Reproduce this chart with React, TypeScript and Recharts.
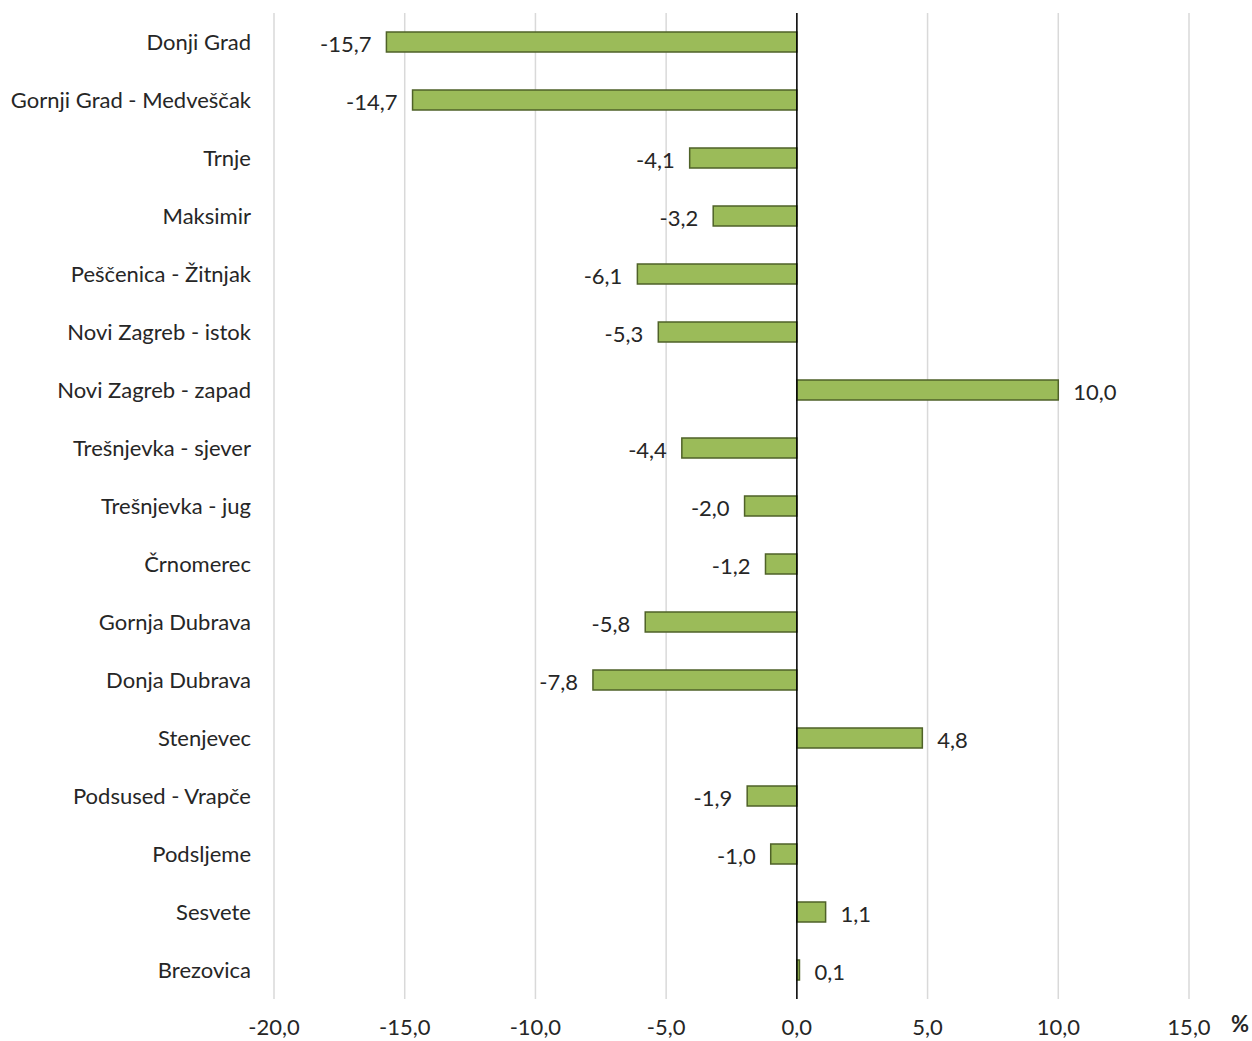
import React from 'react'
import {
  BarChart,
  Bar,
  XAxis,
  YAxis,
  CartesianGrid,
  ReferenceLine,
  LabelList
} from 'recharts'

const districts = [
  'Donji Grad',
  'Gornji Grad - Medveščak',
  'Trnje',
  'Maksimir',
  'Peščenica - Žitnjak',
  'Novi Zagreb - istok',
  'Novi Zagreb - zapad',
  'Trešnjevka - sjever',
  'Trešnjevka - jug',
  'Črnomerec',
  'Gornja Dubrava',
  'Donja Dubrava',
  'Stenjevec',
  'Podsused - Vrapče',
  'Podsljeme',
  'Sesvete',
  'Brezovica'
]

const changes = [-15.7, -14.7, -4.1, -3.2, -6.1, -5.3, 10.0, -4.4, -2.0, -1.2, -5.8, -7.8, 4.8, -1.9, -1.0, 1.1, 0.1]

const xTicks = [-20, -15, -10, -5, 0, 5, 10, 15]

const data = districts.map((name, i) => ({ name, value: changes[i] }))

const FONT = 'Lato, "Open Sans", sans-serif'
const TEXT = '#262626'
const SIZE = 22

const fmt = (v: number) => v.toFixed(1).replace('.', ',')

const ValueLabel = (props: any) => {
  const { x, y, width, height, value } = props
  const end = Number(x) + Number(width)
  const neg = value < 0
  return (
    <text
      x={neg ? end - 15 : end + 15}
      y={Number(y) + Number(height) / 2 + 1}
      textAnchor={neg ? 'end' : 'start'}
      dominantBaseline="central"
      fontSize={SIZE}
      fontFamily={FONT}
      fill={TEXT}
    >
      {fmt(value)}
    </text>
  )
}

export default function App() {
  return (
    <div style={{ position: 'absolute', left: 0, top: 0, width: 1252, height: 1041, background: '#fff' }}>
      <BarChart
        width={1252}
        height={1041}
        data={data}
        layout="vertical"
        margin={{ top: 13, right: 63, bottom: 0, left: 0 }}
        barSize={20}
      >
        <CartesianGrid horizontal={false} stroke="#d9d9d9" strokeWidth={1.5} />
        <XAxis
          type="number"
          domain={[-20, 15]}
          ticks={xTicks}
          tickFormatter={fmt}
          axisLine={false}
          tickLine={false}
          tickSize={0}
          tickMargin={20}
          height={42}
          interval={0}
          tick={{ fontSize: SIZE, fontFamily: FONT, fill: TEXT }}
        />
        <YAxis
          type="category"
          dataKey="name"
          width={274}
          axisLine={false}
          tickLine={false}
          tickSize={0}
          tickMargin={23}
          interval={0}
          tick={{ fontSize: SIZE, fontFamily: FONT, fill: TEXT }}
        />
        <Bar dataKey="value" fill="#9bbb59" stroke="#4f6228" strokeWidth={1.5} isAnimationActive={false}>
          <LabelList dataKey="value" content={<ValueLabel />} />
        </Bar>
        <ReferenceLine x={0} stroke="#000" strokeWidth={1.5} />
      </BarChart>
      <div
        style={{
          position: 'absolute',
          left: 1231,
          top: 1010,
          fontFamily: FONT,
          fontWeight: 'bold',
          fontSize: SIZE,
          color: TEXT
        }}
      >
        %
      </div>
    </div>
  )
}
